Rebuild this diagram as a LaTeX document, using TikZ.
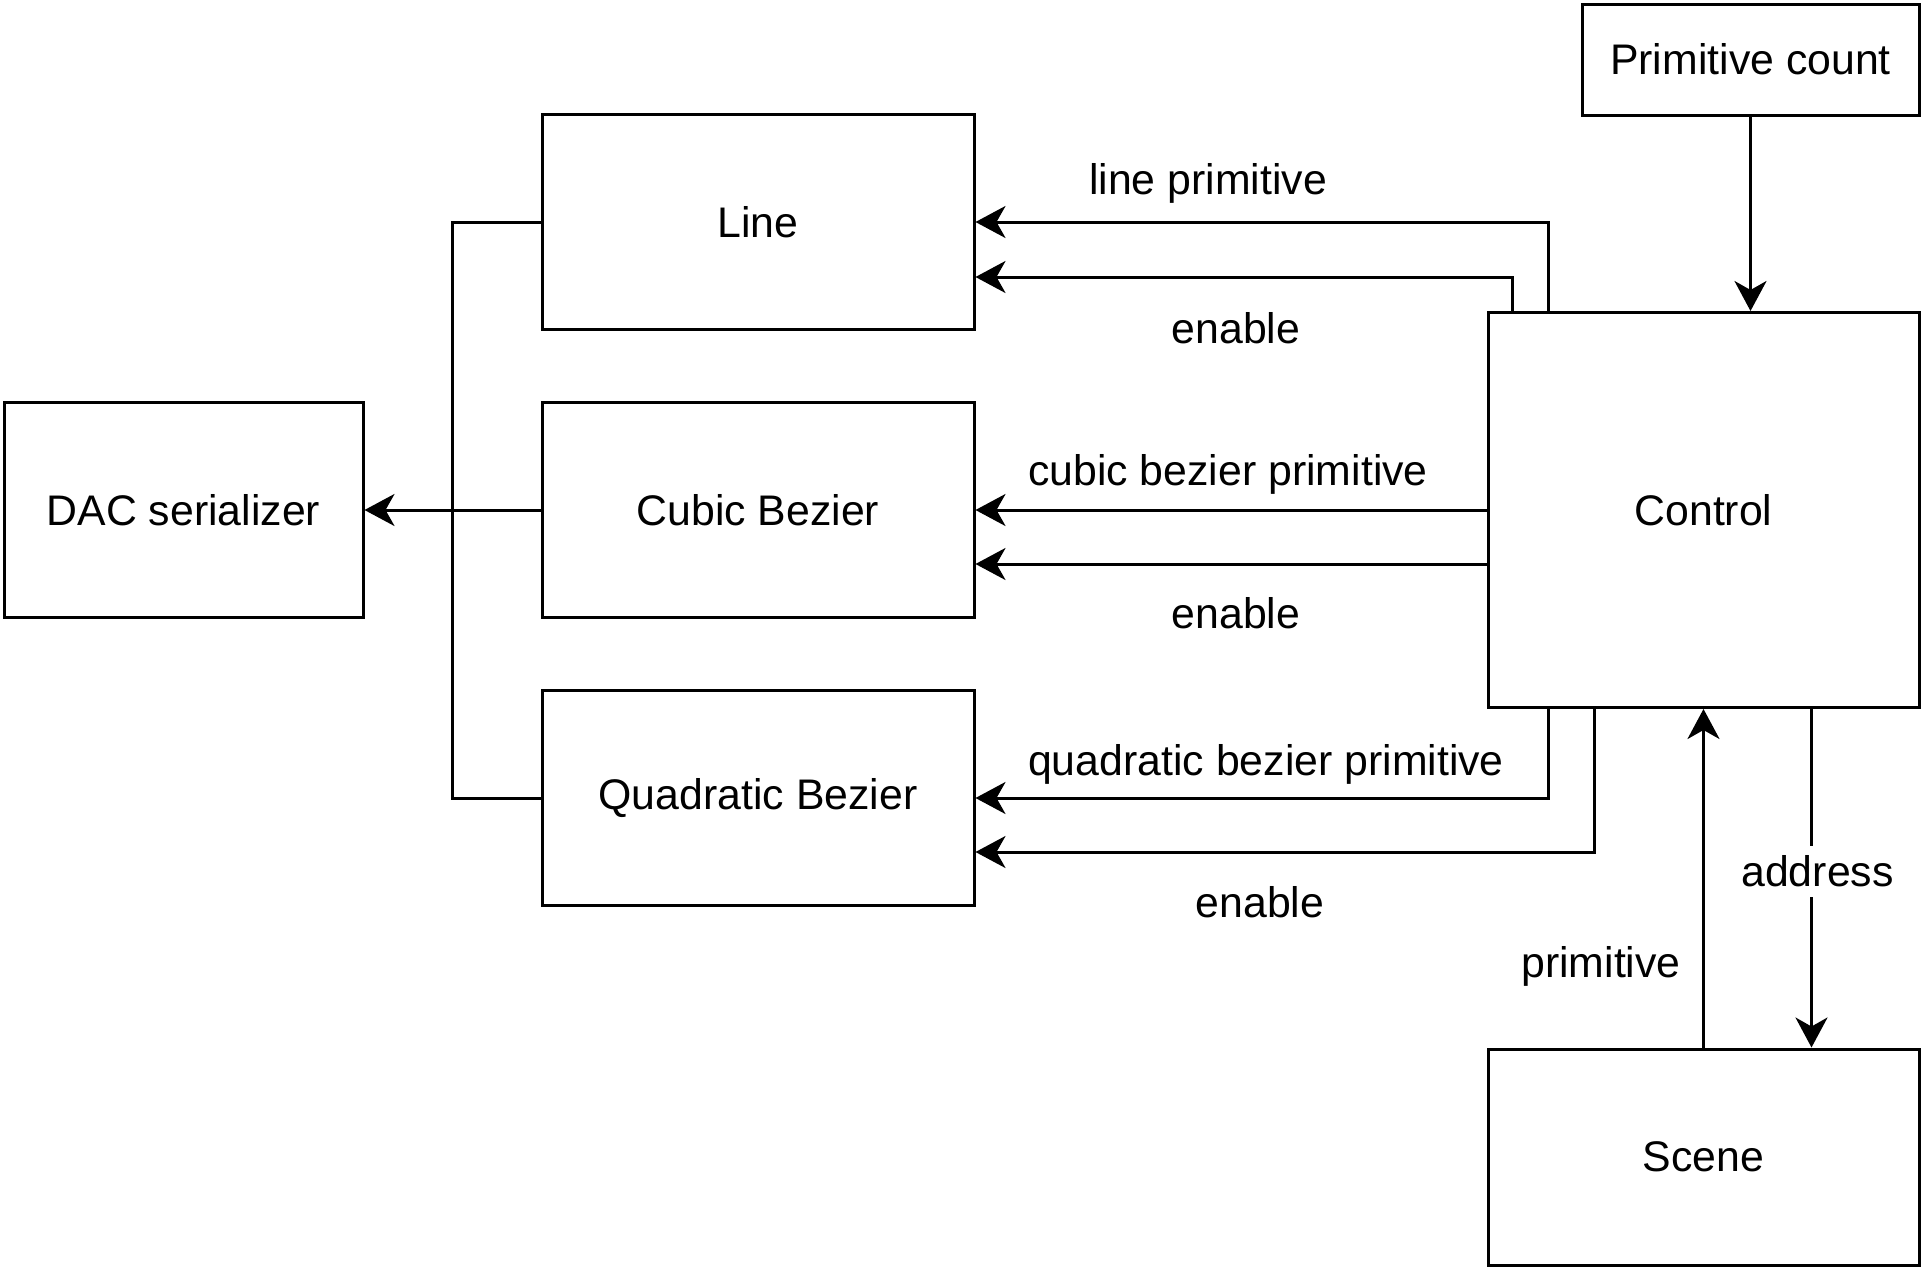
\documentclass[tikz,border=0pt]{standalone}
\usepackage{fontspec}
\setmainfont{Liberation Sans}
\usepackage{tikz}
\usetikzlibrary{arrows.meta}
\usetikzlibrary{calc}
\tikzstyle{block}=[rectangle,draw,line width=1.5pt,minimum width=216pt,minimum height=107.5pt,inner sep=0pt,font=\fontsize{21.4pt}{25pt}\selectfont]
\tikzstyle{edge} = [draw,line width=1.5pt,-{Stealth[length=15pt,width=16pt,inset=4.5pt]}]
\tikzstyle{bus} = [draw,line width=1.5pt]
\tikzstyle{signal} = [font=\fontsize{21.4pt}{25pt}\selectfont]

\begin{document}
\begin{tikzpicture}[x=0.5pt,y=-0.5pt]

    \useasboundingbox (0,0) rectangle (1924,1270);

    % blocks
    \node[block, minimum width=179.5pt] (DAC) at (183.5,510) {DAC serializer};

    \foreach \y/\name/\text in { 222/Line/Line, 510/Cubic/Cubic Bezier, 798/Quad/Quadratic Bezier }
        \node[block] (\name) at (758,\y) {\text};

    \node[block, minimum width=215.5pt, minimum height=197.5pt] (Control) at (1703.5,510) {Control};
    \node[block, minimum width=168.5pt, minimum height=55.5pt] (Count) at (1750.5,59.5) {Primitive count};
    \node[block, minimum width=215.5pt, minimum height=108pt] (Scene) at (1703.5,1157) {Scene};

    % output bus
    \coordinate (bus) at (452,510);
    \path[bus] (Line.west) -| (bus) |- (Quad.west);
    \path[edge] (Cubic.west) -- (DAC.east);

    % control signals
    \path[edge] (Count.south) -- (Count.south |- Control.north);
    \path[edge] ($(Control.north west)+(62,0)$) |- (Line.east);
    \path[edge] ($(Control.north west)+(26,0)$) |- ($(Line.east)+(0,55)$);
    \path[edge] (Control.west) -- (Cubic.east);
    \path[edge] ($(Control.west)+(0,54)$) -- ($(Cubic.east)+(0,54)$);
    \path[edge] ($(Control.south west)+(62,0)$) |- (Quad.east);
    \path[edge] ($(Control.south west)+(108,0)$) |- ($(Quad.east)+(0,54)$);
    \path[edge] (Scene.north) -- (Control.south);
    \path[edge] ($(Control.south)+(108,0)$) -- node[signal, fill=white, inner sep=5pt, pos=0.48, xshift=3pt] (addr) {address} ($(Scene.north)+(108,0)$);

    % labels
    \foreach \x/\y/\name/\text in { 1208/183/lineLbl/line primitive, 1236/328/lineEn/enable, 1228/474/cubicLbl/cubic bezier primitive, 1236/613/cubicEn/enable, 1266/764/quadLbl/quadratic bezier primitive, 1260/902/quadEn/enable, 1601/966/primLbl/primitive }
        \node[signal] (\name) at (\x,\y) {\text};

\end{tikzpicture}
\end{document}
